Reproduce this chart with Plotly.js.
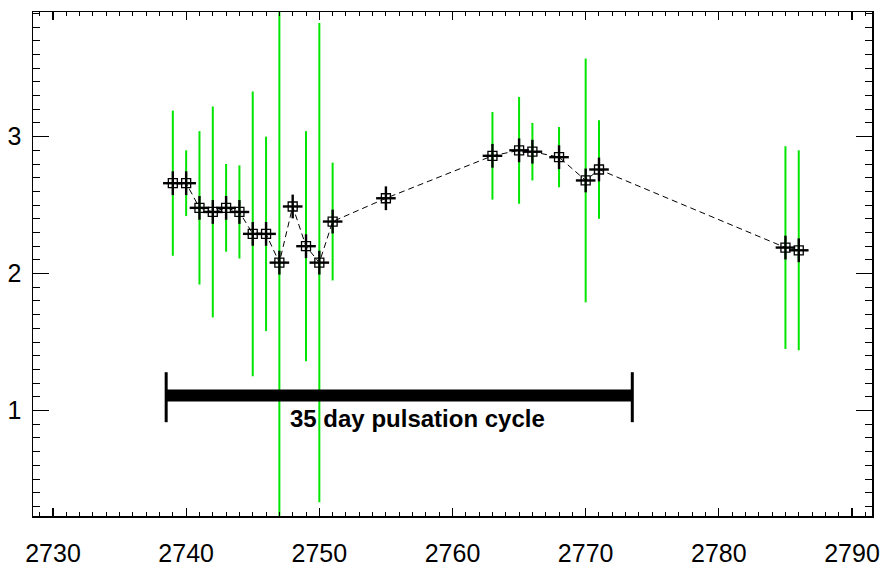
<!DOCTYPE html>
<html>
<head>
<meta charset="utf-8">
<script src="https://cdn.plot.ly/plotly-3.0.1.min.js"></script>
<style>
html,body{margin:0;padding:0;background:#fff;}
#chart{width:880px;height:565px;}
</style>
</head>
<body>
<div id="chart"></div>
<script>
// Observation days
var days = [2739, 2740, 2741, 2742, 2743, 2744, 2745, 2746, 2747, 2748, 2749, 2750, 2751, 2755, 2763, 2765, 2766, 2768, 2770, 2771, 2785, 2786];
// Measured values
var values = [2.66, 2.66, 2.48, 2.45, 2.48, 2.45, 2.29, 2.29, 2.08, 2.49, 2.20, 2.08, 2.38, 2.55, 2.86, 2.90, 2.89, 2.85, 2.68, 2.76, 2.19, 2.17];
// Uncertainties (symmetric)
var errors = [0.53, 0.24, 0.56, 0.77, 0.32, 0.34, 1.04, 0.71, 2.0, 0, 0.84, 1.75, 0.43, 0, 0.32, 0.39, 0.21, 0.22, 0.89, 0.36, 0.74, 0.73];
// Pulsation cycle marker
var cycleStart = 2738.5;
var cycleLength = 35;
var cycleLevel = 1.11;
var cycleLabel = "35 day pulsation cycle";
var xTicks = [2730, 2740, 2750, 2760, 2770, 2780, 2790];
var yTicks = [1, 2, 3];

var FONT = '"Liberation Sans", Arial, Helvetica, sans-serif';

var traces = [
  {
    x: days, y: values, type: 'scatter', mode: 'markers',
    marker: {size: 1, color: 'rgba(0,0,0,0)'},
    error_y: {type: 'data', array: errors, visible: true, color: '#00e600', thickness: 2, width: 0},
    hoverinfo: 'skip', showlegend: false
  },
  {
    x: days, y: values, type: 'scatter', mode: 'lines',
    line: {color: '#000', width: 1, dash: '6px,4px'},
    showlegend: false
  },
  {
    x: days, y: values, type: 'scatter', mode: 'markers',
    marker: {symbol: 'line-ew-open', size: 14, color: '#000', line: {color: '#000', width: 2.4}},
    showlegend: false
  },
  {
    x: days, y: values, type: 'scatter', mode: 'markers',
    marker: {symbol: 'line-ns-open', size: 17, color: '#000', line: {color: '#000', width: 2.4}},
    showlegend: false
  },
  {
    x: days, y: values, type: 'scatter', mode: 'markers',
    marker: {symbol: 'square-open', size: 9, color: '#000', line: {color: '#000', width: 1.3}},
    showlegend: false
  }
];

var cycleEnd = cycleStart + cycleLength;
var layout = {
  width: 880, height: 565,
  margin: {l: 33, r: 8, t: 12, b: 49},
  paper_bgcolor: '#fff', plot_bgcolor: '#fff',
  showlegend: false,
  font: {family: FONT, color: '#000'},
  xaxis: {
    range: [2728.5, 2791.5],
    tickmode: 'array', tickvals: xTicks, ticktext: xTicks.map(String),
    ticks: 'inside', ticklen: 8, tickwidth: 1.3, tickcolor: '#000',
    minor: {dtick: 1, tick0: 2730, ticks: 'inside', ticklen: 4, tickwidth: 1, tickcolor: '#000'},
    mirror: 'ticks', showline: true, linecolor: '#000', linewidth: 1.5,
    showgrid: false, zeroline: false,
    tickfont: {family: FONT, size: 25, color: '#000'},
    ticklabeloverflow: 'allow',
    ticklabelstandoff: 14
  },
  yaxis: {
    range: [0.23, 3.91],
    tickmode: 'array', tickvals: yTicks, ticktext: yTicks.map(String),
    ticks: 'inside', ticklen: 16, tickwidth: 1.3, tickcolor: '#000',
    minor: {dtick: 0.1, tick0: 0, ticks: 'inside', ticklen: 7, tickwidth: 1, tickcolor: '#000'},
    mirror: 'ticks', showline: true, linecolor: '#000', linewidth: 1.5,
    showgrid: false, zeroline: false,
    tickfont: {family: FONT, size: 25, color: '#000'},
    ticklabelstandoff: 5
  },
  shapes: [
    {type: 'line', xref: 'x', yref: 'y', x0: cycleStart, x1: cycleEnd, y0: cycleLevel, y1: cycleLevel, line: {color: '#000', width: 12}},
    {type: 'line', xref: 'x', yref: 'y', x0: cycleStart, x1: cycleStart, y0: cycleLevel - 0.195, y1: cycleLevel + 0.17, line: {color: '#000', width: 3}},
    {type: 'line', xref: 'x', yref: 'y', x0: cycleEnd, x1: cycleEnd, y0: cycleLevel - 0.195, y1: cycleLevel + 0.17, line: {color: '#000', width: 3}}
  ],
  annotations: [
    {x: (cycleStart + cycleEnd) / 2 + 1.4, y: cycleLevel - 0.17, xref: 'x', yref: 'y', text: '<b>' + cycleLabel + '</b>', showarrow: false,
     font: {family: FONT, size: 24, color: '#000'}}
  ]
};

Plotly.newPlot('chart', traces, layout, {staticPlot: true, displayModeBar: false});
</script>
</body>
</html>
